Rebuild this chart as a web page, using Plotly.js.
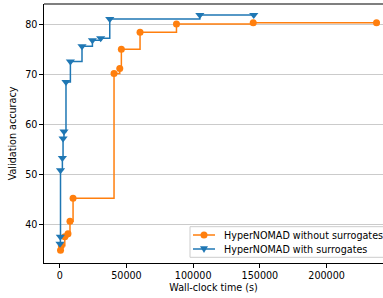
<!DOCTYPE html>
<html>
<head>
<meta charset="utf-8">
<script src="https://cdn.plot.ly/plotly-3.0.1.min.js"></script>
<style>html,body{margin:0;padding:0;background:#fff;}#chart{width:383px;height:298px;}</style>
</head>
<body>
<div id="chart"></div>
<script>
// Wall-clock time (s) and validation accuracy
const timeWithout = [600, 1200, 3800, 6200, 7700, 10000, 40700, 45000, 46200, 60200, 87500, 145000, 237400];
const accWithout  = [34.9, 35.8, 37.6, 38.2, 40.7, 45.3, 70.2, 71.2, 75.0, 78.4, 80.05, 80.3, 80.3];
const timeWith = [200, 500, 600, 2000, 2500, 3200, 4700, 8000, 16700, 24500, 30700, 37500, 105000, 145400];
const accWith  = [36.2, 37.6, 50.9, 53.3, 57.2, 58.6, 68.5, 72.6, 75.6, 76.8, 77.2, 81.05, 81.85, 81.85];
const seriesNames = ["HyperNOMAD without surrogates", "HyperNOMAD with surrogates"];
const seriesColors = ["#ff7f0e", "#1f77b4"];
const xTicks = [0, 50000, 100000, 150000, 200000];
const xTickLabels = ["0", "50000", "100000", "150000", "200000"];
const yTicks = [40, 50, 60, 70, 80];
const yTickLabels = ["40", "50", "60", "70", "80"];

const W = 383, H = 298;
const M = {l: 44, r: 0, t: 4, b: 35};
const pw = W - M.l - M.r, ph = H - M.t - M.b;
// pixel -> paper helpers (for the hand-drawn legend box)
const px = v => (v - M.l) / pw;
const py = v => (H - M.b - v) / ph;

const font = {family: "DejaVu Sans", size: 9.6, color: "#000"};

const traces = [
  {x: timeWithout, y: accWithout, name: seriesNames[0], type: "scatter", mode: "lines+markers",
   line: {shape: "hv", color: seriesColors[0], width: 1.5},
   marker: {symbol: "circle", size: 7, color: seriesColors[0]}, showlegend: false},
  {x: timeWith, y: accWith, name: seriesNames[1], type: "scatter", mode: "lines+markers",
   line: {shape: "hv", color: seriesColors[1], width: 1.5},
   marker: {symbol: "triangle-down", size: 8, color: seriesColors[1]}, showlegend: false}
];

// legend geometry (pixels)
const boxL = 190, boxR = 386, boxT = 226.7, boxB = 257.3;
const rowY = [235, 249];
const lineL = 193, lineR = 215, mk = 204, textX = 221.5;

const shapes = [
  {type: "line", xref: "paper", yref: "paper", x0: 0, x1: 1, y0: 1, y1: 1,
   line: {color: "#555", width: 1.5}},
  {type: "rect", xref: "paper", yref: "paper", x0: px(boxL), x1: px(boxR), y0: py(boxB), y1: py(boxT),
   fillcolor: "rgba(255,255,255,0.8)", line: {color: "#cccccc", width: 1}}
];
const annotations = [];
rowY.forEach((ry, i) => {
  shapes.push({type: "line", xref: "paper", yref: "paper", x0: px(lineL), x1: px(lineR), y0: py(ry), y1: py(ry),
               line: {color: seriesColors[i], width: 1.5}});
  annotations.push({xref: "paper", yref: "paper", x: px(textX), y: py(ry), xanchor: "left", yanchor: "middle",
                    text: seriesNames[i], showarrow: false, font: font});
});
// circle marker
shapes.push({type: "circle", xref: "paper", yref: "paper",
             x0: px(mk - 3.5), x1: px(mk + 3.5), y0: py(rowY[0] + 3.5), y1: py(rowY[0] - 3.5),
             fillcolor: seriesColors[0], line: {width: 0}});
// triangle-down marker
const t = rowY[1];
shapes.push({type: "path", xref: "paper", yref: "paper",
             path: `M ${px(mk - 4)} ${py(t - 2.7)} L ${px(mk + 4)} ${py(t - 2.7)} L ${px(mk)} ${py(t + 4)} Z`,
             fillcolor: seriesColors[1], line: {width: 0}});

const layout = {
  width: W, height: H,
  margin: {l: M.l, r: M.r, t: M.t, b: M.b, pad: 0},
  paper_bgcolor: "#fff", plot_bgcolor: "#fff",
  font: font,
  showlegend: false,
  xaxis: {range: [-11775, 242250], showgrid: false, zeroline: false,
          tickvals: xTicks, ticktext: xTickLabels,
          ticks: "outside", ticklen: 3.5, tickwidth: 1, tickcolor: "#000",
          showline: true, linecolor: "#000", linewidth: 1.2, mirror: false,
          tickfont: font,
          title: {text: "Wall-clock time (s)", font: font, standoff: 4}},
  yaxis: {range: [32.37, 84.05], showgrid: true, gridcolor: "#cbcbcb", gridwidth: 1, zeroline: false,
          tickvals: yTicks, ticktext: yTickLabels,
          ticks: "outside", ticklen: 3.5, tickwidth: 1, tickcolor: "#000",
          showline: true, linecolor: "#000", linewidth: 1.2, mirror: false,
          tickfont: font,
          title: {text: "Validation accuracy", font: font, standoff: 6}},
  shapes: shapes,
  annotations: annotations
};

Plotly.newPlot("chart", traces, layout, {displayModeBar: false, staticPlot: true});
</script>
</body>
</html>
